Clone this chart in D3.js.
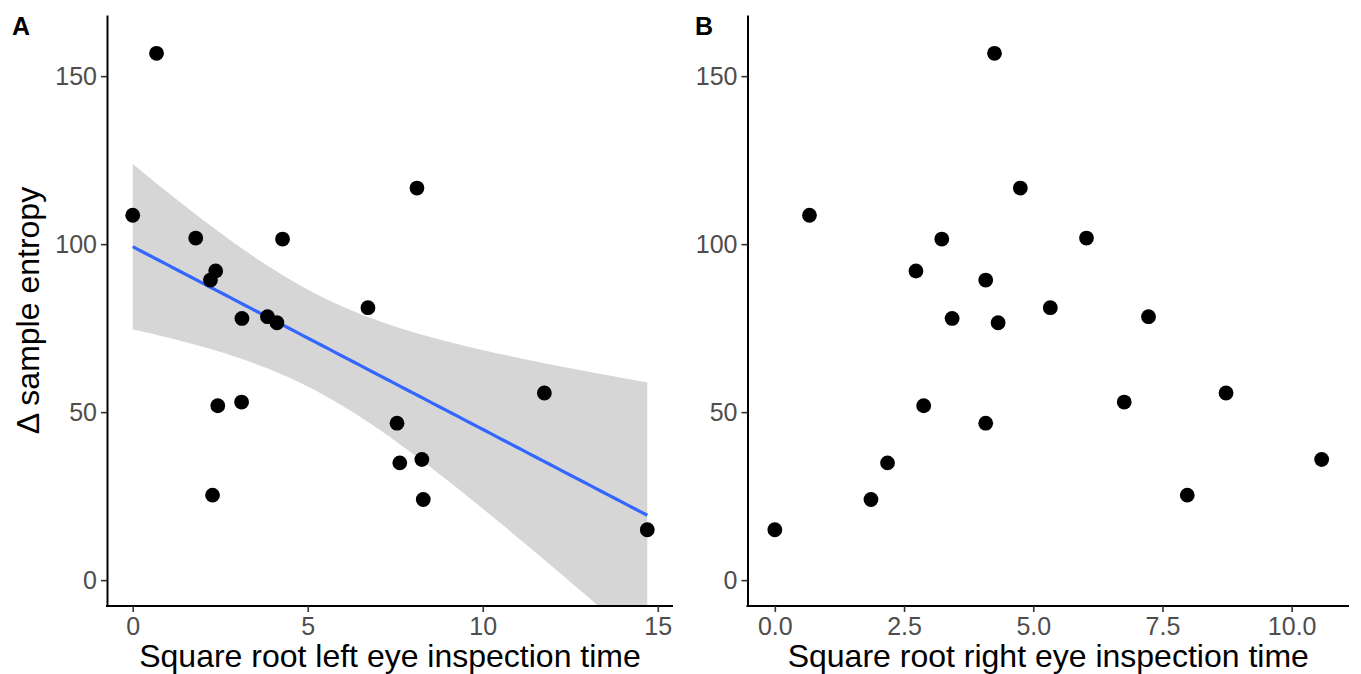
<!DOCTYPE html>
<html>
<head>
<meta charset="utf-8">
<script src="https://cdn.jsdelivr.net/npm/d3@7"></script>
<style>
  body { margin: 0; background: #fff; }
  svg { font-family: "Liberation Sans", Arial, sans-serif; }
</style>
</head>
<body>
<svg width="1361" height="674"></svg>
<script>
// one value per subject, same order in every array
const entropy   = [108.6, 156.8, 101.8, 92.0, 89.3, 101.5, 77.9, 78.4, 76.6, 81.1, 116.7, 55.7, 15.0, 51.9, 53.0, 25.3, 46.7, 34.9, 35.9, 24.0];
const leftTime  = [0, 0.68, 1.8, 2.37, 2.22, 4.28, 3.12, 3.85, 4.12, 6.72, 8.12, 11.76, 14.7, 2.43, 3.11, 2.28, 7.55, 7.63, 8.26, 8.3];
const rightTime = [0.67, 4.25, 6.03, 2.73, 4.08, 3.23, 3.43, 7.23, 4.32, 5.33, 4.75, 8.73, 0, 2.88, 6.76, 7.98, 4.08, 2.18, 10.58, 1.86];

const yTicks = [0, 50, 100, 150];
const xTicksA = [0, 5, 10, 15];
const xTicksB = [0, 2.5, 5, 7.5, 10];
const yLimits = [-7.7, 168.2];
const tCrit = 2.100922; // qt(0.975, 18)

const svg = d3.select("svg");
const plotTop = 15, plotBottom = 606;

let y = d3.scaleLinear().domain(yLimits).range([plotBottom, plotTop]);

function expand(ext) {
  let pad = (ext[1] - ext[0]) * 0.05;
  return [ext[0] - pad, ext[1] + pad];
}

function panel(xs, left, right, xTicks, fmt, label, labelX, title) {
  const pts = xs.map((v, i) => ({x: v, y: entropy[i]}));
  let x = d3.scaleLinear().domain(expand(d3.extent(xs))).range([left, right]);
  const g = svg.append("g");

  g.append("text")
    .attr("x", labelX)
    .attr("y", 35)
    .attr("font-weight", "bold")
    .attr("font-size", 25)
    .text(label);

  let xAxis = g.append("g")
    .attr("transform", "translate(0," + plotBottom + ")")
    .call(d3.axisBottom(x).tickValues(xTicks).tickFormat(fmt).tickSize(6).tickSizeOuter(0));
  let yAxis = g.append("g")
    .attr("transform", "translate(" + left + ",0)")
    .call(d3.axisLeft(y).tickValues(yTicks).tickSize(6).tickSizeOuter(0));

  [xAxis, yAxis].forEach(a => {
    a.select(".domain").attr("stroke", "#000").attr("stroke-width", 2);
    a.selectAll(".tick line").attr("stroke", "#333").attr("stroke-width", 1.6);
    a.selectAll(".tick text").attr("fill", "#4D4D4D").attr("font-size", 25)
      .attr("font-family", "Liberation Sans, Arial, sans-serif");
  });
  xAxis.selectAll(".tick text").attr("dy", null).attr("y", 29);
  yAxis.selectAll(".tick text").attr("x", -10);
  xAxis.select(".domain").attr("d", "M" + (left - 1) + ",0H" + right);

  g.append("text")
    .attr("x", (left + right) / 2)
    .attr("y", 667)
    .attr("text-anchor", "middle")
    .attr("font-size", 32)
    .text(title);

  return {g: g, x: x, pts: pts};
}

// panel A with linear fit and 95% band
let A = panel(leftTime, 107, 673, xTicksA, d3.format("d"), "A", 12, "Square root left eye inspection time");

svg.append("clipPath").attr("id", "clipA")
  .append("rect").attr("x", 108).attr("y", plotTop).attr("width", 673 - 108).attr("height", plotBottom - plotTop - 1);

const n = leftTime.length;
const mx = d3.mean(leftTime), my = d3.mean(entropy);
const sxx = d3.sum(leftTime, v => (v - mx) * (v - mx));
const sxy = d3.sum(leftTime, (v, i) => (v - mx) * (entropy[i] - my));
const slope = sxy / sxx, icpt = my - slope * mx;
const sse = d3.sum(leftTime, (v, i) => Math.pow(entropy[i] - (icpt + slope * v), 2));
const s = Math.sqrt(sse / (n - 2));

const xmin = d3.min(leftTime), xmax = d3.max(leftTime);
const fit = d3.range(80).map(k => {
  let xv = xmin + (xmax - xmin) * k / 79;
  let f = icpt + slope * xv;
  let hw = tCrit * s * Math.sqrt(1 / n + (xv - mx) * (xv - mx) / sxx);
  return {x: xv, f: f, lo: f - hw, hi: f + hw};
});

let band = A.g.insert("g", ":first-child").attr("clip-path", "url(#clipA)");
band.append("path")
  .datum(fit)
  .attr("fill", "#D6D6D6")
  .attr("d", d3.area().x(d => A.x(d.x)).y0(d => y(d.lo)).y1(d => y(d.hi)));
band.append("path")
  .datum(fit)
  .attr("fill", "none")
  .attr("stroke", "#3366FF")
  .attr("stroke-width", 3.2)
  .attr("d", d3.line().x(d => A.x(d.x)).y(d => y(d.f)));

A.g.selectAll("circle").data(A.pts).enter().append("circle")
  .attr("cx", d => A.x(d.x)).attr("cy", d => y(d.y)).attr("r", 7.4).attr("fill", "#000");

// panel B, points only
let B = panel(rightTime, 747.5, 1349, xTicksB, d3.format(".1f"), "B", 695, "Square root right eye inspection time");
B.g.selectAll("circle").data(B.pts).enter().append("circle")
  .attr("cx", d => B.x(d.x)).attr("cy", d => y(d.y)).attr("r", 7.4).attr("fill", "#000");

// y title, panel A only
svg.append("text")
  .attr("transform", "translate(39,310.5) rotate(-90)")
  .attr("text-anchor", "middle")
  .attr("font-size", 32)
  .text("Δ sample entropy");
</script>
</body>
</html>
